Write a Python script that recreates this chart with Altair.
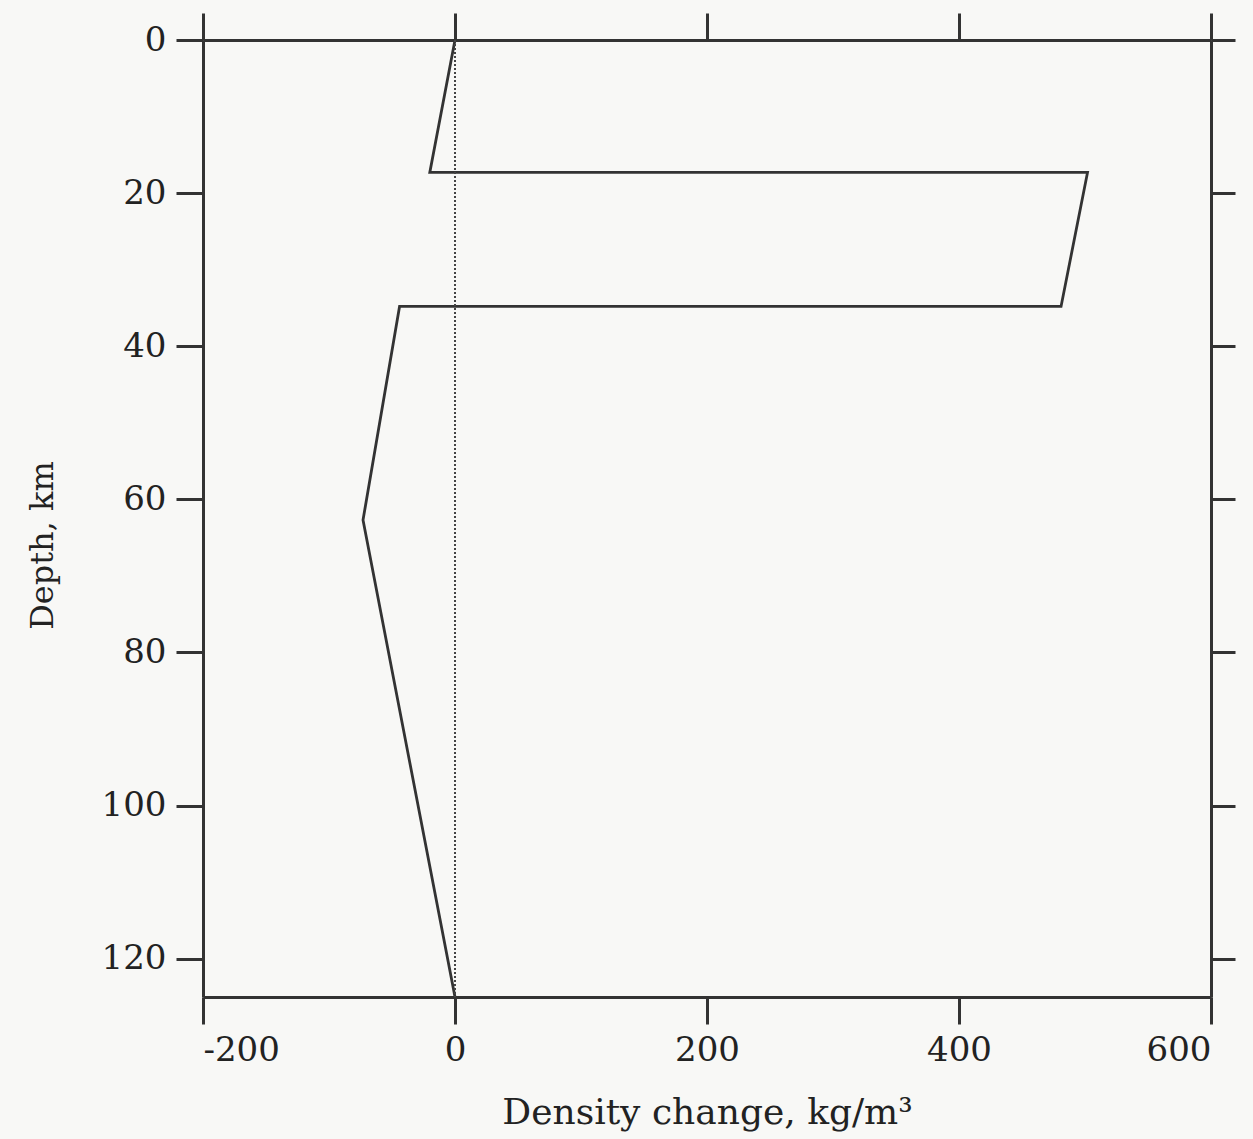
import altair as alt
import pandas as pd

# Profile values
depth_km = [0, 17.3, 17.3, 34.8, 34.8, 62.7, 125]
density_change = [0, -20, 502, 481, -44, -73, 0]

zero_depths = [0, 125]
zero_values = [0, 0]

x_ticks = [-200, 0, 200, 400, 600]
y_ticks = [0, 20, 40, 60, 80, 100, 120]

profile = pd.DataFrame({"order": list(range(len(depth_km))), "depth": depth_km, "rho": density_change})
zero = pd.DataFrame({"depth": zero_depths, "rho": zero_values})

FONT = "DejaVu Serif"
INK = "#333333"

xscale = alt.Scale(domain=[-200, 600], nice=False, zero=False)
yscale = alt.Scale(domain=[0, 125], nice=False, zero=False, reverse=True)

common_axis = dict(
    domainColor=INK, domainWidth=3, tickColor=INK, tickWidth=3, tickSize=27,
    grid=False, labelFont=FONT, labelFontSize=34, labelColor="#222222",
    titleFont=FONT, titleFontWeight="normal", titleColor="#222222",
)

line = alt.Chart(profile).mark_line(color=INK, strokeWidth=2.8).encode(
    x=alt.X("rho:Q", scale=xscale,
            axis=alt.Axis(orient="bottom", values=x_ticks, title="Density change, kg/m³",
                          labelExpr="datum.value < 0 ? '-' + abs(datum.value) : '' + datum.value",
                          titleFontSize=36, labelPadding=9, titlePadding=28, **common_axis)),
    y=alt.Y("depth:Q", scale=yscale,
            axis=alt.Axis(orient="left", values=y_ticks, title="Depth, km",
                          titleFontSize=32, labelPadding=10, titlePadding=42, titleY=505,
                          **common_axis)),
    order="order:Q",
)

rule = alt.Chart(zero).mark_line(color="#444444", strokeWidth=2, strokeDash=[2, 2]).encode(
    x=alt.X("rho:Q", scale=xscale,
            axis=alt.Axis(orient="top", values=x_ticks, labels=False, title=None, **common_axis)),
    y=alt.Y("depth:Q", scale=yscale,
            axis=alt.Axis(orient="right", values=y_ticks, labels=False, title=None,
                          **{**common_axis, "tickSize": 24})),
)

chart = alt.layer(line, rule).resolve_axis(x="independent", y="independent").properties(
    width=1008, height=957,
    autosize=alt.AutoSizeParams(type="none"),
    padding={"left": 203, "top": 40, "right": 42, "bottom": 142},
    background="#f8f8f6",
).configure_view(stroke=None)

chart.save("out.html", embed_options={"renderer": "svg", "actions": False})
